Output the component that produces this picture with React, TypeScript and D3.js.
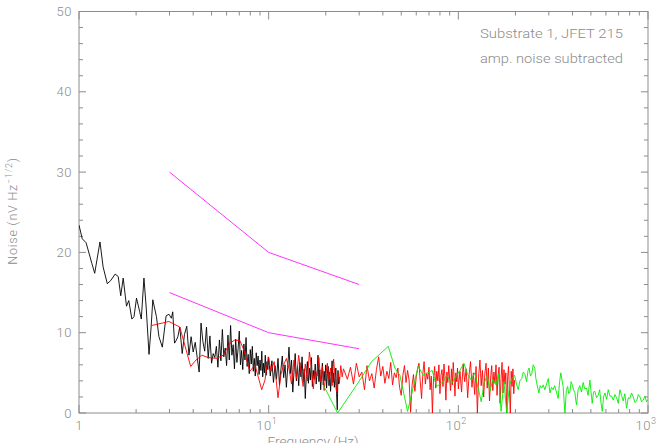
import * as d3 from 'd3';

const W = 658;
const H = 443;
const M = { left: 79, right: 648, top: 11.5, bottom: 413 };

const yMajorTicks = [0, 10, 20, 30, 40, 50];
const xDecades = [1, 10, 100, 1000];
const xDecadeExp = ['', '1', '2', '3'];
const notes = ['Substrate 1, JFET 215', 'amp. noise subtracted'];

// black: low-frequency run, 1 - 25 Hz
const blackNoise: [number, number][] = [
  [1.00, 23.4], [1.04, 21.7], [1.09, 21.2], [1.17, 18.6], [1.21, 17.4], [1.29, 21.3], [1.34, 18.2],
  [1.41, 16.1], [1.47, 16.5], [1.55, 17.3], [1.61, 17.0], [1.66, 14.6], [1.71, 16.8], [1.78, 13.3],
  [1.83, 14.0], [1.90, 11.7], [1.95, 12.0], [2.01, 14.3], [2.09, 12.6], [2.13, 11.7], [2.20, 16.8],
  [2.26, 13.2], [2.34, 7.3], [2.40, 10.7], [2.45, 14.1], [2.56, 12.0], [2.64, 9.5], [2.75, 8.2],
  [2.88, 12.1], [2.98, 12.3], [3.07, 11.8], [3.12, 12.6], [3.19, 8.7], [3.25, 9.0], [3.32, 9.5],
  [3.4, 10.7], [3.5, 7.4], [3.6, 9.8], [3.7, 10.8], [3.8, 7.2], [3.9, 9.5], [4.0, 7.6], [4.1, 8.8],
  [4.2, 6.9], [4.3, 5.1], [4.4, 11.2], [4.5, 8.9], [4.6, 7.7], [4.7, 10.7], [4.8, 6.8], [4.9, 9.6],
  [5.0, 6.2], [5.1, 7.4], [5.2, 6.9], [5.3, 8.3], [5.4, 5.7], [5.5, 9.1], [5.6, 6.5], [5.7, 10.4],
  [5.8, 7.0], [5.9, 8.1], [6.0, 5.9], [6.1, 9.7], [6.2, 6.6], [6.3, 10.9], [6.4, 7.2], [6.5, 8.5],
  [6.6, 5.5], [6.7, 9.2], [6.8, 6.3], [6.9, 8.0], [7.0, 10.2], [7.1, 6.0], [7.2, 7.8], [7.3, 5.4],
  [7.4, 8.6], [7.5, 6.6], [7.6, 9.4], [7.7, 5.8], [7.8, 7.3], [7.9, 4.9], [8.0, 7.9], [8.1, 6.1],
  [8.2, 8.3], [8.3, 5.2], [8.4, 6.8], [8.5, 4.6], [8.6, 7.5], [8.7, 5.9], [8.8, 7.1], [8.9, 4.8],
  [9.0, 6.6], [9.1, 5.3], [9.2, 7.7], [9.3, 4.5], [9.4, 6.2], [9.5, 5.0], [9.6, 7.2], [9.7, 4.7],
  [9.8, 6.4], [9.9, 5.4], [10.0, 6.9],
  [10.2, 4.6], [10.4, 6.5], [10.6, 3.8], [10.8, 5.9], [11.0, 4.2], [11.2, 6.8], [11.4, 3.5],
  [11.6, 5.4], [11.8, 7.1], [12.0, 4.4], [12.2, 6.0], [12.4, 3.2], [12.6, 5.7], [12.8, 8.2],
  [13.0, 4.9], [13.2, 6.6], [13.4, 2.6], [13.6, 5.1], [13.8, 7.4], [14.0, 4.0], [14.2, 5.8],
  [14.4, 3.4], [14.6, 6.3], [14.8, 4.5], [15.0, 7.0], [15.2, 3.9], [15.4, 5.5], [15.6, 1.8],
  [15.8, 4.8], [16.0, 6.4], [16.2, 3.7], [16.4, 5.6], [16.6, 4.1], [16.8, 6.9], [17.0, 3.3],
  [17.2, 5.3], [17.4, 4.2], [17.6, 6.1], [17.8, 3.6], [18.0, 5.0], [18.2, 7.2], [18.4, 3.9],
  [18.6, 5.4], [18.8, 2.9], [19.0, 4.7], [19.2, 6.2], [19.4, 3.5], [19.6, 5.2], [19.8, 4.0],
  [20.0, 6.0], [20.2, 3.1], [20.4, 4.9], [20.6, 5.8], [20.8, 3.4], [21.0, 5.1], [21.2, 2.7],
  [21.4, 4.6], [21.6, 6.5], [21.8, 3.8], [22.0, 5.0], [22.2, 3.2], [22.4, 4.4], [22.6, 5.6],
  [22.8, 2.4], [23.0, 0.4], [23.2, 5.3], [23.4, 3.6], [23.6, 4.5],
];

// red: mid run, 2.4 - 200 Hz
const redNoise: [number, number][] = [
  [2.42, 10.9], [2.75, 11.2], [2.98, 11.4], [3.40, 10.7], [3.88, 5.8], [4.14, 6.6], [4.44, 7.2],
  [4.80, 6.9], [5.32, 6.8], [5.76, 7.2], [6.25, 8.7], [6.64, 9.1], [7.06, 9.0], [7.41, 7.8],
  [7.97, 5.2], [8.47, 6.0], [9.19, 2.9], [9.56, 4.1], [9.95, 7.0],
  [10.3, 5.2], [10.7, 6.4], [11.2, 1.9], [11.6, 4.8], [12.0, 6.0], [12.4, 6.8], [12.8, 5.5],
  [13.2, 3.6], [13.6, 6.6], [14.0, 4.3], [14.4, 7.2], [14.8, 5.0], [15.2, 3.3], [15.6, 6.1],
  [16.0, 4.0], [16.4, 7.6], [16.8, 5.7], [17.2, 3.0], [17.6, 5.4], [18.0, 4.6], [18.4, 6.9],
  [18.8, 3.9], [19.2, 5.8], [19.6, 2.8], [20.0, 4.8], [20.4, 6.2], [20.8, 4.1], [21.2, 5.6],
  [21.6, 3.4], [22.0, 6.7], [22.4, 4.4], [22.8, 2.6], [23.2, 5.0], [23.6, 3.7], [24.0, 5.9],
  [24.4, 4.5], [24.8, 5.5],
  [25, 5.3], [26, 4.2], [27, 5.7], [28, 3.6], [29, 6.2], [30, 4.5], [31, 5.1], [32, 2.9], [33, 5.9],
  [34, 4.0], [35, 4.9], [36, 3.1], [37, 5.4], [38, 7.0], [39, 4.6], [40, 5.8], [41, 3.7], [42, 5.2],
  [43, 4.3], [44, 6.3], [45, 3.5], [46, 5.0], [47, 4.4], [48, 5.6], [49, 3.2], [50, 2.2], [51, 4.7],
  [52, 5.9], [53, 3.8], [54, 5.3], [55, 4.1], [56, 0.1], [57, 3.4], [58, 4.8], [59, 2.7], [60, 4.5],
  [61, 5.5], [62, 6.2], [63, 3.9], [64, 1.8], [65, 4.9], [66, 6.4], [67, 3.6], [68, 5.0], [69, 4.2],
  [70, 5.7], [71, 2.9], [72, 4.6], [73, 0.0], [74, 4.3], [75, 5.8], [76, 3.1], [77, 5.2], [78, 4.0],
  [79, 6.0], [80, 2.4], [81, 4.7], [82, 5.4], [83, 3.3], [84, 6.1], [85, 4.5], [86, 1.6], [87, 5.1],
  [88, 3.8], [89, 5.9], [90, 4.2], [91, 2.8], [92, 5.5], [93, 3.5], [94, 6.3], [95, 4.4], [96, 2.1],
  [97, 5.0], [98, 3.9], [99, 5.6], [100, 3.0],
  [102, 5.2], [104, 2.6], [106, 6.1], [108, 3.9], [110, 5.5], [112, 1.9], [114, 4.8], [116, 6.4],
  [118, 3.2], [120, 5.0], [122, 2.3], [124, 5.8], [126, 0.0], [128, 4.6], [130, 6.6], [132, 3.4],
  [134, 5.3], [136, 2.0], [138, 4.9], [140, 6.2], [142, 3.1], [144, 5.6], [146, 1.5], [148, 4.4],
  [150, 5.9], [152, 2.8], [154, 5.1], [156, 3.7], [158, 6.0], [160, 2.2], [162, 4.7], [164, 5.7],
  [166, 1.2], [168, 4.3], [170, 6.3], [172, 2.5], [174, 5.4], [176, 3.6], [178, 5.0], [180, 0.0],
  [182, 4.5], [184, 5.8], [186, 2.9], [188, 0.0], [190, 5.2], [192, 3.3], [194, 5.5], [196, 2.4],
  [198, 4.1],
];

// green: high-frequency run, 19 - 1000 Hz
const greenNoise: [number, number][] = [
  [19.4, 3.5], [23.1, 0.0], [29.5, 3.7], [34.9, 6.4], [42.7, 8.3], [46.3, 5.6], [49.2, 4.7],
  [54.0, 0.2], [61.4, 5.8], [65.3, 4.7], [72.8, 5.3], [76.8, 3.3], [83.2, 3.9], [86.8, 4.7],
  [92.2, 3.7], [98.0, 4.7], [102, 5.3], [107, 6.2], [112, 4.8], [117, 4.1], [122, 5.0], [127, 3.2],
  [132, 1.4], [137, 3.8], [142, 4.6], [147, 2.7], [152, 4.2], [158, 3.5], [163, 4.9], [168, 0.2],
  [174, 3.9], [180, 0.0], [186, 3.5], [192, 4.3],
  [198, 4.7], [203, 3.5], [207, 2.9], [211, 4.0], [216, 4.3], [220, 5.1], [224, 4.9], [229, 3.9],
  [233, 5.3], [236, 5.6], [240, 4.6], [244, 4.9], [248, 6.0], [253, 5.6], [256, 4.4], [259, 3.7],
  [263, 3.0], [266, 2.5], [270, 3.4], [275, 3.1], [280, 3.5], [286, 2.9], [292, 3.6], [298, 4.3],
  [304, 2.5], [310, 3.2], [316, 2.9], [322, 3.4], [329, 2.6], [336, 1.8], [342, 3.9], [347, 5.0],
  [352, 4.1], [357, 3.3], [361, 1.5], [365, 0.0], [371, 2.8], [377, 3.3], [382, 2.4], [388, 2.7],
  [393, 3.9], [399, 3.5], [405, 2.9], [412, 2.5], [416, 1.6], [420, 1.0], [428, 2.9], [437, 3.4],
  [446, 2.6], [455, 3.8], [464, 3.0], [474, 3.1], [483, 2.2], [494, 4.1], [500, 2.8], [508, 1.2],
  [516, 2.6], [525, 2.7], [535, 1.9], [546, 2.2], [556, 2.9], [565, 1.3], [574, 0.2], [583, 2.0],
  [593, 2.5], [605, 1.7], [617, 2.9], [630, 2.1], [643, 2.1], [656, 1.6], [669, 2.3], [683, 1.9],
  [697, 1.2], [711, 2.9], [725, 2.2], [740, 1.5], [755, 2.4], [771, 0.6], [787, 1.9], [803, 1.8],
  [819, 2.5], [836, 2.0], [853, 1.3], [871, 1.5], [889, 2.3], [907, 2.0], [925, 1.4], [944, 1.6],
  [963, 2.1], [983, 1.4], [1000, 1.7],
];

// magenta reference lines
const limitHigh: [number, number][] = [[3, 30], [10, 20], [30, 16]];
const limitLow: [number, number][] = [[3, 15], [10, 10], [30, 8]];

const AXIS = '#8c8c8c';
const FONT = 'Roboto, "DejaVu Sans", sans-serif';

export default function App() {
  const x = d3.scaleLog().domain([1, 1000]).range([M.left, M.right]);
  const y = d3.scaleLinear().domain([0, 50]).range([M.bottom, M.top]);

  const line = d3.line<[number, number]>()
    .x(d => x(d[0]))
    .y(d => y(d[1]));

  const xTicks = x.ticks();
  const yTicks = y.ticks(25);

  const series = [
    { data: blackNoise, color: '#000000', w: 0.9 },
    { data: redNoise, color: '#ff0000', w: 0.9 },
    { data: greenNoise, color: '#00ee00', w: 0.9 },
    { data: limitHigh, color: '#ff33ff', w: 1 },
    { data: limitLow, color: '#ff33ff', w: 1 },
  ];

  return (
    <svg width={W} height={H} style={{ position: 'absolute', left: 0, top: 0, background: '#fff' }}
      fontFamily={FONT} fontWeight={300}>
      <defs>
        <clipPath id="plot">
          <rect x={M.left} y={M.top} width={M.right - M.left} height={M.bottom - M.top} />
        </clipPath>
      </defs>

      {/* frame */}
      <rect x={M.left} y={M.top} width={M.right - M.left} height={M.bottom - M.top}
        fill="none" stroke={AXIS} strokeWidth={1} />

      {/* x ticks, bottom and top */}
      {xTicks.map((t, i) => {
        const major = xDecades.includes(t);
        const len = major ? 8 : 4;
        const px = x(t);
        return (
          <g key={'xt' + i} stroke={AXIS} strokeWidth={1}>
            <line x1={px} x2={px} y1={M.bottom} y2={M.bottom - len} />
            <line x1={px} x2={px} y1={M.top} y2={M.top + len} />
          </g>
        );
      })}

      {/* y ticks, left and right */}
      {yTicks.map((t, i) => {
        const major = yMajorTicks.includes(t);
        const len = major ? 7 : 4;
        const py = y(t);
        return (
          <g key={'yt' + i} stroke={AXIS} strokeWidth={1}>
            <line x1={M.left} x2={M.left + len} y1={py} y2={py} />
            <line x1={M.right} x2={M.right - len} y1={py} y2={py} />
          </g>
        );
      })}

      {/* y tick labels */}
      {yMajorTicks.map(t => (
        <text key={'yl' + t} x={M.left - 7} y={y(t) + 4.5} textAnchor="end" fontSize={13}
          fill={AXIS} letterSpacing={0.5}>{t}</text>
      ))}

      {/* x tick labels */}
      {xDecades.map((t, i) => (
        <text key={'xl' + t} x={x(t) + (i === 0 ? 0 : -2)} y={430} textAnchor="middle" fontSize={13}
          fill={AXIS} letterSpacing={0.5}>
          {i === 0 ? '1' : '10'}
          {xDecadeExp[i] && <tspan dy={-6} fontSize={9}>{xDecadeExp[i]}</tspan>}
        </text>
      ))}

      {/* axis titles */}
      <text x={313} y={446} textAnchor="middle" fontSize={13} fill={AXIS}
        textLength={91} lengthAdjust="spacingAndGlyphs">Frequency (Hz)</text>
      <text transform="translate(17,211) rotate(-90)" textAnchor="middle" fontSize={12.5} fill={AXIS}
        letterSpacing={0.8}>
        Noise (nV Hz<tspan dy={-5} fontSize={9}>−1/2</tspan><tspan dy={5}>)</tspan>
      </text>

      {/* annotation */}
      {notes.map((n, i) => (
        <text key={n} x={480} y={38 + i * 25} fontSize={12.5} fill={AXIS}
          textLength={143} lengthAdjust="spacingAndGlyphs">{n}</text>
      ))}

      {/* data */}
      <g clipPath="url(#plot)" fill="none">
        {series.map((s, i) => (
          <path key={'s' + i} d={line(s.data) ?? ''} stroke={s.color} strokeWidth={s.w}
            strokeLinejoin="round" />
        ))}
      </g>
    </svg>
  );
}
